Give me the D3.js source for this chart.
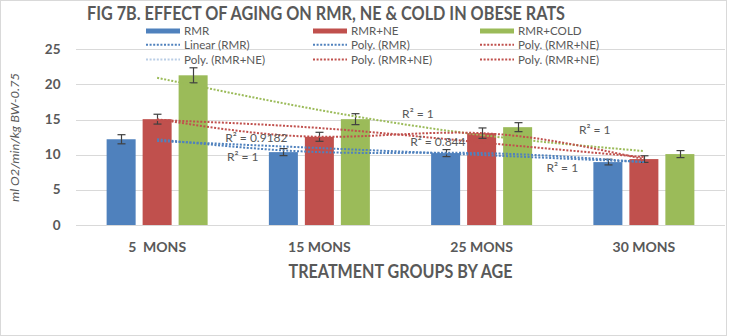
<!DOCTYPE html>
<html>
<head>
<meta charset="utf-8">
<script src="https://cdn.jsdelivr.net/npm/d3@7"></script>
<style>
  body { margin: 0; background: #fff; }
  text { font-family: Lato, "Open Sans", sans-serif; fill: #595959; }
</style>
</head>
<body>
<svg></svg>
<script>
const width = 729;
const height = 336;

// data
const categories = ["5  MONS", "15 MONS", "25 MONS", "30 MONS"];
const seriesNames = ["RMR", "RMR+NE", "RMR+COLD"];
const rmr = [12.2, 10.37, 10.23, 8.95];
const rmrNe = [15.06, 12.55, 13.07, 9.38];
const rmrCold = [21.3, 15.06, 13.92, 10.09];
const rmrErr = [0.65, 0.5, 0.5, 0.4];
const rmrNeErr = [0.7, 0.64, 0.74, 0.47];
const rmrColdErr = [1.07, 0.78, 0.64, 0.5];

// trendlines, values at each age group
const linearRmr = [11.95, 10.95, 9.96, 8.96];
const polyRmr = [12.2, 10.37, 10.23, 8.95];
const polyRmrNeA = [14.94, 13.8, 11.74, 9.67];
const polyRmrNeB = [15.06, 12.55, 13.07, 9.38];
const polyCold = [20.95, 16.36, 12.8, 10.52];

const r2Labels = [
  { text: "R² = 0.9182", at: 0.42, value: 12.38 },
  { text: "R² = 1", at: 0.43, value: 9.67 },
  { text: "R² = 1", at: 1.51, value: 15.79 },
  { text: "R² = 0.844", at: 1.56, value: 11.88 },
  { text: "R² = 1", at: 2.6, value: 13.58 },
  { text: "R² = 1", at: 2.4, value: 8.11 }
];

const yTicks = [0, 5, 10, 15, 20, 25];

const colors = { "RMR": "#4F81BD", "RMR+NE": "#C0504D", "RMR+COLD": "#9BBB59" };

const legendItems = [
  { name: "RMR", kind: "bar", color: "#4F81BD" },
  { name: "RMR+NE", kind: "bar", color: "#C0504D" },
  { name: "RMR+COLD", kind: "bar", color: "#9BBB59" },
  { name: "Linear (RMR)", kind: "dot", color: "#4F81BD" },
  { name: "Poly. (RMR)", kind: "dot", color: "#4F81BD" },
  { name: "Poly. (RMR+NE)", kind: "dot", color: "#C0504D" },
  { name: "Poly. (RMR+NE)", kind: "dot", color: "#B9CDE5" },
  { name: "Poly. (RMR+NE)", kind: "dot", color: "#C0504D" },
  { name: "Poly. (RMR+NE)", kind: "dot", color: "#C0504D" }
];

const svg = d3.select("svg")
  .attr("width", width)
  .attr("height", height);

// chart border
svg.append("rect")
  .attr("x", 0.5).attr("y", 0.5)
  .attr("width", 726).attr("height", height - 1)
  .attr("fill", "#fff")
  .attr("stroke", "#d9d9d9");

const plot = { left: 76, right: 725, top: 49.3, bottom: 225 };

const x0 = d3.scaleBand()
  .domain(categories)
  .range([plot.left, plot.right]);

const x1 = d3.scaleBand()
  .domain(seriesNames)
  .range([x0.bandwidth() / 2 - 50.5, x0.bandwidth() / 2 + 50.5])
  .paddingInner(0.194);

const y = d3.scaleLinear()
  .domain([0, 25])
  .range([plot.bottom, plot.top]);

const xTrend = d3.scaleLinear()
  .domain([0, categories.length - 1])
  .range([x0(categories[0]) + x0.bandwidth() / 2, x0(categories[3]) + x0.bandwidth() / 2]);

// gridlines
svg.append("g")
  .selectAll("line")
  .data(yTicks)
  .join("line")
  .attr("x1", plot.left).attr("x2", plot.right)
  .attr("y1", d => Math.round(y(d)) + 0.5)
  .attr("y2", d => Math.round(y(d)) + 0.5)
  .attr("stroke", "#d9d9d9")
  .attr("stroke-width", 1);

// y tick labels
svg.append("g")
  .selectAll("text")
  .data(yTicks)
  .join("text")
  .attr("x", 60.5)
  .attr("y", d => y(d) + 4.6)
  .attr("text-anchor", "end")
  .attr("font-size", 13.5)
  .attr("font-weight", "bold")
  .text(d => d);

// bars
const seriesData = [
  { name: "RMR", values: rmr, errs: rmrErr },
  { name: "RMR+NE", values: rmrNe, errs: rmrNeErr },
  { name: "RMR+COLD", values: rmrCold, errs: rmrColdErr }
];

const bars = [];
seriesData.forEach(s => {
  s.values.forEach((v, i) => {
    bars.push({ series: s.name, cat: categories[i], value: v, err: s.errs[i] });
  });
});

svg.append("g")
  .selectAll("rect")
  .data(bars)
  .join("rect")
  .attr("x", d => x0(d.cat) + x1(d.series))
  .attr("y", d => y(d.value))
  .attr("width", x1.bandwidth())
  .attr("height", d => y(0) - y(d.value))
  .attr("fill", d => colors[d.series]);

// error bars
const errG = svg.append("g")
  .attr("stroke", "#404040")
  .attr("stroke-width", 1.2);

bars.forEach(d => {
  const cx = Math.round(x0(d.cat) + x1(d.series) + x1.bandwidth() / 2) + 0.5;
  const y1 = y(d.value + d.err);
  const y2 = y(d.value - d.err);
  errG.append("line").attr("x1", cx).attr("x2", cx).attr("y1", y1).attr("y2", y2);
  errG.append("line").attr("x1", cx - 4).attr("x2", cx + 4).attr("y1", y1).attr("y2", y1);
  errG.append("line").attr("x1", cx - 4).attr("x2", cx + 4).attr("y1", y2).attr("y2", y2);
});

// trendlines
const smooth = d3.line()
  .x((d, i) => xTrend(i))
  .y(d => y(d))
  .curve(d3.curveNatural);

const straight = d3.line()
  .x((d, i) => xTrend(i))
  .y(d => y(d));

const trends = [
  { values: polyCold, color: "#9BBB59", gen: smooth },
  { values: polyRmrNeA, color: "#C0504D", gen: smooth },
  { values: polyRmrNeB, color: "#C0504D", gen: smooth },
  { values: linearRmr, color: "#4F81BD", gen: straight },
  { values: polyRmr, color: "#4F81BD", gen: smooth }
];

svg.append("g")
  .selectAll("path")
  .data(trends)
  .join("path")
  .attr("d", d => d.gen(d.values))
  .attr("fill", "none")
  .attr("stroke", d => d.color)
  .attr("stroke-width", 2)
  .attr("stroke-dasharray", "2,1.6");

// R² labels
svg.append("g")
  .selectAll("text")
  .data(r2Labels)
  .join("text")
  .attr("x", d => xTrend(d.at))
  .attr("y", d => y(d.value) + 4.3)
  .attr("font-size", 12)
  .text(d => d.text);

// x labels
svg.append("g")
  .selectAll("text")
  .data(categories)
  .join("text")
  .attr("x", d => x0(d) + x0.bandwidth() / 2)
  .attr("y", 251.5)
  .attr("text-anchor", "middle")
  .attr("font-size", 14)
  .attr("font-weight", "bold")
  .style("white-space", "pre")
  .attr("xml:space", "preserve")
  .text(d => d);

// axis titles
svg.append("text")
  .attr("x", (plot.left + plot.right) / 2)
  .attr("y", 278)
  .attr("text-anchor", "middle")
  .attr("font-size", 18)
  .attr("font-weight", "bold")
  .attr("textLength", 224)
  .attr("lengthAdjust", "spacingAndGlyphs")
  .text("TREATMENT GROUPS BY AGE");

svg.append("text")
  .attr("transform", "translate(19,137.5) rotate(-90)")
  .attr("text-anchor", "middle")
  .attr("font-size", 12)
  .attr("font-style", "italic")
  .attr("textLength", 129)
  .attr("lengthAdjust", "spacingAndGlyphs")
  .text("ml O2/min/kg BW-0.75");

// title
svg.append("text")
  .attr("x", 87)
  .attr("y", 19.6)
  .attr("font-size", 18.6)
  .attr("font-weight", "bold")
  .attr("textLength", 478)
  .attr("lengthAdjust", "spacingAndGlyphs")
  .text("FIG 7B. EFFECT OF AGING ON RMR, NE & COLD IN OBESE RATS");

// legend
const legendCols = [146, 313, 480];
const legendRows = [31, 44.8, 59.5];

const leg = svg.append("g")
  .selectAll("g")
  .data(legendItems)
  .join("g")
  .attr("transform", (d, i) => `translate(${legendCols[i % 3]},${legendRows[Math.floor(i / 3)]})`);

leg.filter(d => d.kind === "bar")
  .append("rect")
  .attr("x", 0).attr("y", -2.5)
  .attr("width", 34).attr("height", 5)
  .attr("fill", d => d.color);

leg.filter(d => d.kind === "dot")
  .append("line")
  .attr("x1", 0).attr("x2", 34)
  .attr("y1", 0).attr("y2", 0)
  .attr("stroke", d => d.color)
  .attr("stroke-width", 2)
  .attr("stroke-dasharray", "2,1.6");

leg.append("text")
  .attr("x", 38)
  .attr("y", 4.1)
  .attr("font-size", 11.6)
  .text(d => d.name);
</script>
</body>
</html>
